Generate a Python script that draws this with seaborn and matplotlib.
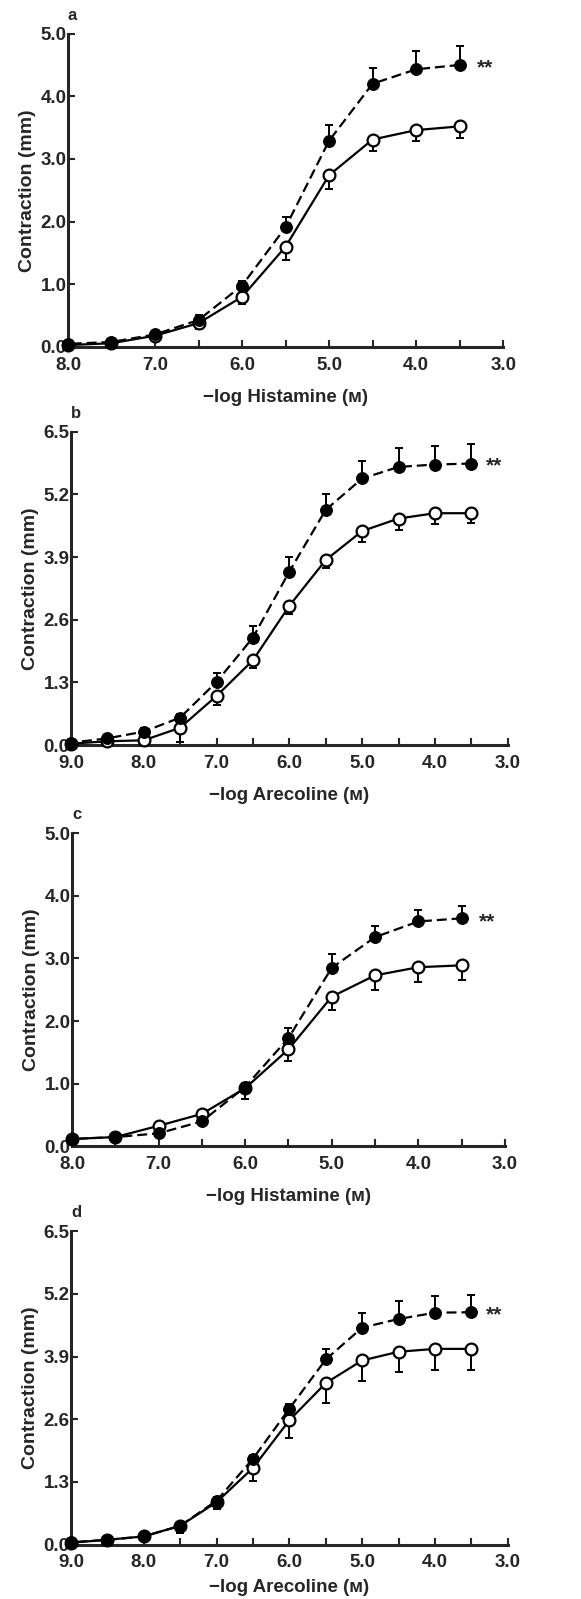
import numpy as np
import matplotlib
matplotlib.use('Agg')
import matplotlib.pyplot as plt
import seaborn as sns

# 数据
x_hist = [8.0, 7.5, 7.0, 6.5, 6.0, 5.5, 5.0, 4.5, 4.0, 3.5]
x_arec = [9.0, 8.5, 8.0, 7.5, 7.0, 6.5, 6.0, 5.5, 5.0, 4.5, 4.0, 3.5]

a_fill = [0.05, 0.08, 0.20, 0.43, 0.98, 1.91, 3.29, 4.20, 4.43, 4.50]
a_fill_err = [0.02, 0.03, 0.05, 0.08, 0.08, 0.16, 0.25, 0.25, 0.29, 0.30]
a_open = [0.03, 0.06, 0.18, 0.38, 0.80, 1.60, 2.74, 3.31, 3.46, 3.52]
a_open_err = [0.02, 0.04, 0.08, 0.10, 0.12, 0.21, 0.22, 0.18, 0.18, 0.18]

b_fill = [0.05, 0.14, 0.28, 0.57, 1.31, 2.23, 3.60, 4.88, 5.53, 5.77, 5.82, 5.84]
b_fill_err = [0.03, 0.06, 0.08, 0.08, 0.19, 0.25, 0.31, 0.33, 0.36, 0.39, 0.39, 0.40]
b_open = [0.03, 0.08, 0.10, 0.36, 1.02, 1.76, 2.89, 3.84, 4.44, 4.70, 4.81, 4.81]
b_open_err = [0.02, 0.05, 0.05, 0.30, 0.19, 0.16, 0.17, 0.17, 0.22, 0.23, 0.23, 0.21]

c_fill = [0.12, 0.15, 0.21, 0.40, 0.95, 1.73, 2.85, 3.34, 3.59, 3.64]
c_fill_err = [0.03, 0.04, 0.04, 0.06, 0.06, 0.16, 0.22, 0.18, 0.19, 0.19]
c_open = [0.12, 0.15, 0.33, 0.52, 0.93, 1.55, 2.39, 2.73, 2.86, 2.89]
c_open_err = [0.03, 0.04, 0.05, 0.05, 0.17, 0.19, 0.21, 0.23, 0.23, 0.24]

d_fill = [0.05, 0.10, 0.17, 0.39, 0.91, 1.78, 2.82, 3.84, 4.50, 4.68, 4.81, 4.82]
d_fill_err = [0.03, 0.04, 0.05, 0.07, 0.08, 0.08, 0.10, 0.21, 0.31, 0.37, 0.34, 0.35]
d_open = [0.04, 0.10, 0.17, 0.39, 0.88, 1.59, 2.58, 3.35, 3.82, 4.00, 4.06, 4.06]
d_open_err = [0.02, 0.04, 0.05, 0.15, 0.15, 0.28, 0.37, 0.41, 0.43, 0.42, 0.43, 0.43]

yticks_hist = [0.0, 1.0, 2.0, 3.0, 4.0, 5.0]
yticks_arec = [0.0, 1.3, 2.6, 3.9, 5.2, 6.5]
xlabel_hist = '\u2212log Histamine (\u1d0d)'
xlabel_arec = '\u2212log Arecoline (\u1d0d)'

sns.set_style('ticks')
plt.rcParams['font.family'] = ['Liberation Sans', 'DejaVu Sans']
plt.rcParams['font.weight'] = 'bold'
plt.rcParams['axes.labelweight'] = 'bold'

fig = plt.figure(figsize=(5.81, 15.99), dpi=100)

# 每个面板的位置 [left, bottom, width, height] 以及 x 轴标题间距
panels = [
    ('a', [0.117, 0.783, 0.749, 0.196], 11, x_hist, a_fill, a_fill_err, a_open, a_open_err, yticks_hist, xlabel_hist),
    ('b', [0.122, 0.534, 0.752, 0.196], 11, x_arec, b_fill, b_fill_err, b_open, b_open_err, yticks_arec, xlabel_arec),
    ('c', [0.124, 0.283, 0.745, 0.196], 11, x_hist, c_fill, c_fill_err, c_open, c_open_err, yticks_hist, xlabel_hist),
    ('d', [0.122, 0.034, 0.752, 0.196], 5.5, x_arec, d_fill, d_fill_err, d_open, d_open_err, yticks_arec, xlabel_arec),
]

for letter, pos, lpad, xs, yf, ef, yo, eo, yt, xlab in panels:
    ax = fig.add_axes(pos)
    xs = np.array(xs)
    zeros = np.zeros(len(xs))

    # 误差线：实心点只画上方，空心点只画下方
    ax.errorbar(xs, yf, yerr=[zeros, ef], fmt='none', ecolor='black',
                elinewidth=1.4, capsize=3, capthick=1.4, zorder=2, clip_on=False)
    ax.errorbar(xs, yo, yerr=[eo, zeros], fmt='none', ecolor='black',
                elinewidth=1.4, capsize=3, capthick=1.4, zorder=2, clip_on=False)

    sns.lineplot(x=xs, y=yo, ax=ax, color='black', linewidth=1.6, marker='o',
                 markersize=8.5, markerfacecolor='white', markeredgecolor='black',
                 markeredgewidth=1.6, zorder=4, clip_on=False)
    sns.lineplot(x=xs, y=yf, ax=ax, color='black', linewidth=1.6, linestyle=(0, (4.5, 2.2)),
                 marker='o', markersize=8.5, markerfacecolor='black', markeredgecolor='black',
                 zorder=5, clip_on=False)

    ax.text(xs[-1] - 0.2, yf[-1] - 0.05, '**', fontsize=15, fontweight='bold',
            ha='left', va='center')

    lo = xs[0]
    ax.set_xlim(lo, 3.0)
    ax.set_ylim(0, yt[-1])
    ax.set_xticks(np.arange(lo, 2.99, -1.0))
    ax.set_xticklabels([f'{v:.1f}' for v in np.arange(lo, 2.99, -1.0)])
    ax.set_xticks(np.arange(lo - 0.5, 2.99, -1.0), minor=True)
    ax.set_yticks(yt)
    ax.set_yticklabels([f'{v:.1f}' for v in yt])

    sns.despine(ax=ax)
    ax.spines['left'].set_linewidth(2.2)
    ax.spines['bottom'].set_linewidth(2.2)
    ax.tick_params(axis='both', which='both', direction='in', width=1.5, length=5,
                   labelsize=13.5, pad=1)
    ax.tick_params(axis='x', pad=7)
    for t in ax.get_xticklabels() + ax.get_yticklabels():
        t.set_fontweight('bold')

    ax.set_xlabel(xlab, fontsize=13.5, fontweight='bold', labelpad=lpad)
    ax.set_ylabel('Contraction (mm)', fontsize=14, fontweight='bold', labelpad=3)
    ax.text(0.0, 1.035, letter, transform=ax.transAxes, fontsize=12,
            fontweight='bold', ha='left', va='bottom')

fig.savefig('out.png', dpi=100)
